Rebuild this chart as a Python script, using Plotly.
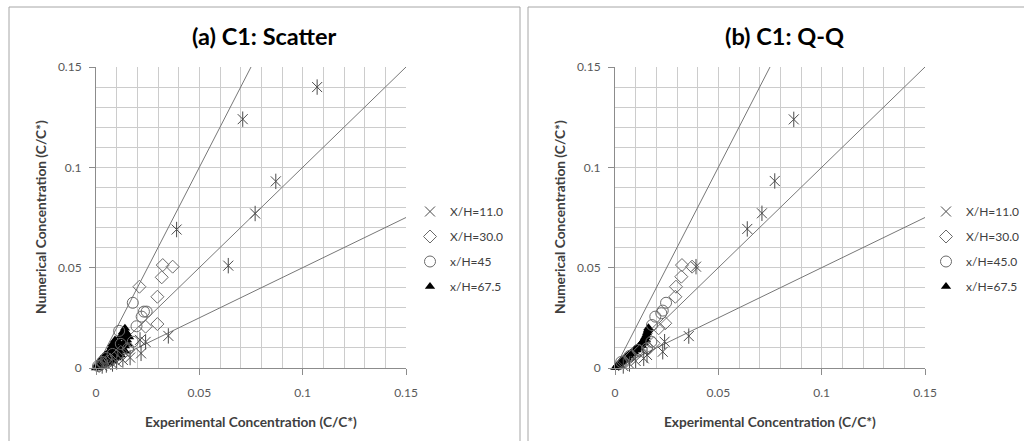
import plotly.graph_objects as go

# ---------------- data ----------------
# Panel (a) scatter: experimental (x) vs numerical (y)
a_x11 = [0.107, 0.071, 0.087, 0.077, 0.039, 0.064, 0.035, 0.024, 0.0218, 0.0213, 0.0165, 0.013, 0.010, 0.008, 0.005, 0.003]
a_y11 = [0.140, 0.124, 0.093, 0.077, 0.069, 0.051, 0.016, 0.013, 0.0073, 0.0140, 0.0052, 0.004, 0.003, 0.002, 0.0015, 0.001]
a_x30 = [0.0323, 0.0371, 0.0318, 0.0210, 0.0297, 0.0297, 0.0240, 0.0156, 0.012, 0.010, 0.007, 0.005, 0.003, 0.0015]
a_y30 = [0.0513, 0.0505, 0.0452, 0.0405, 0.0355, 0.0219, 0.0206, 0.0090, 0.008, 0.006, 0.004, 0.003, 0.002, 0.001]
a_x45 = [0.0178, 0.0232, 0.0245, 0.0221, 0.0196, 0.0112, 0.0178, 0.0156, 0.012, 0.008, 0.005, 0.003, 0.001]
a_y45 = [0.0325, 0.0281, 0.0281, 0.0256, 0.0208, 0.0185, 0.0131, 0.0098, 0.012, 0.007, 0.005, 0.003, 0.001]
a_x67 = [0.0140, 0.0130, 0.0150, 0.0120, 0.0092, 0.0110, 0.0080, 0.0100, 0.0070, 0.0090, 0.0060, 0.0050,
         0.0040, 0.0060, 0.0030, 0.0020, 0.0040, 0.0010, 0.0020, 0.0030, 0.0005, 0.0070, 0.0080, 0.0120,
         0.0130, 0.0150, 0.0140, 0.0110, 0.0050, 0.0015, 0.0025, 0.0035, 0.0065, 0.0085, 0.0100, 0.0045,
         0.0060, 0.0080, 0.0100, 0.0120, 0.0140, 0.0155, 0.0160, 0.0025, 0.0045, 0.0075, 0.0095, 0.0105,
         0.0000, 0.0010, 0.0005, 0.0035, 0.0055, 0.0125, 0.0135, 0.0145]
a_y67 = [0.0198, 0.0180, 0.0170, 0.0160, 0.0140, 0.0130, 0.0120, 0.0100, 0.0090, 0.0070, 0.0070, 0.0060,
         0.0050, 0.0040, 0.0040, 0.0030, 0.0020, 0.0010, 0.0015, 0.0020, 0.0005, 0.0050, 0.0060, 0.0090,
         0.0120, 0.0140, 0.0110, 0.0070, 0.0030, 0.0025, 0.0010, 0.0025, 0.0085, 0.0080, 0.0075, 0.0045,
         0.0025, 0.0035, 0.0050, 0.0065, 0.0085, 0.0120, 0.0155, 0.0045, 0.0065, 0.0105, 0.0115, 0.0060,
         0.0000, 0.0003, 0.0015, 0.0055, 0.0035, 0.0105, 0.0150, 0.0180]

# Panel (b) Q-Q: sorted experimental (x) vs sorted numerical (y)
b_x11 = [0.0865, 0.0773, 0.0711, 0.0640, 0.0392, 0.0357, 0.0240, 0.0231, 0.0155, 0.0139, 0.0100, 0.0070, 0.0040]
b_y11 = [0.1239, 0.0932, 0.0771, 0.0693, 0.0505, 0.0159, 0.0131, 0.0081, 0.0065, 0.0048, 0.0035, 0.0020, 0.0010]
b_x30 = [0.0373, 0.0324, 0.0321, 0.0295, 0.0292, 0.0243, 0.0211, 0.0187, 0.0163, 0.0120, 0.0080, 0.0040]
b_y30 = [0.0505, 0.0513, 0.0455, 0.0405, 0.0355, 0.0223, 0.0198, 0.0123, 0.0098, 0.0085, 0.0060, 0.0030]
b_x45 = [0.0247, 0.0231, 0.0224, 0.0195, 0.0179, 0.0176, 0.0155, 0.0110, 0.0070, 0.0030]
b_y45 = [0.0325, 0.0286, 0.0273, 0.0256, 0.0214, 0.0131, 0.0098, 0.0090, 0.0060, 0.0030]
b_x67 = [0.0162, 0.0160, 0.0158, 0.0155, 0.0152, 0.0148, 0.0144, 0.0140, 0.0135, 0.0130, 0.0125, 0.0120,
         0.0114, 0.0108, 0.0102, 0.0096, 0.0090, 0.0084, 0.0078, 0.0072, 0.0066, 0.0060, 0.0054, 0.0048,
         0.0042, 0.0036, 0.0030, 0.0024, 0.0018, 0.0012, 0.0006, 0.0002,
         0.0150, 0.0140, 0.0130, 0.0118, 0.0105, 0.0092, 0.0080, 0.0068, 0.0056, 0.0044, 0.0032, 0.0020, 0.0008]
b_y67 = [0.0200, 0.0192, 0.0183, 0.0174, 0.0165, 0.0156, 0.0148, 0.0140, 0.0132, 0.0125, 0.0118, 0.0112,
         0.0106, 0.0100, 0.0095, 0.0090, 0.0085, 0.0080, 0.0075, 0.0070, 0.0065, 0.0060, 0.0055, 0.0050,
         0.0045, 0.0040, 0.0034, 0.0028, 0.0021, 0.0014, 0.0007, 0.0002,
         0.0140, 0.0125, 0.0112, 0.0100, 0.0090, 0.0080, 0.0070, 0.0060, 0.0050, 0.0040, 0.0030, 0.0018, 0.0004]

series_names_a = ["X/H=11.0", "X/H=30.0", "x/H=45", "x/H=67.5"]
series_names_b = ["X/H=11.0", "X/H=30.0", "x/H=45.0", "x/H=67.5"]
ref_slopes = [2.0, 1.0, 0.5]
axis_max = 0.15
titles = ["(a) C1: Scatter", "(b) C1: Q-Q"]
x_title = "Experimental Concentration (C/C*)"
y_title = "Numerical Concentration (C/C*)"

# ---------------- figure ----------------
W, H = 1024, 441
FONT = "Lato, 'Open Sans', sans-serif"
LINE_C = "#777777"
GRID_C = "#cccccc"

fig = go.Figure()

panels = [
    dict(xa="x", ya="y", lg="legend",
         data=[(a_x11, a_y11), (a_x30, a_y30), (a_x45, a_y45), (a_x67, a_y67)],
         names=series_names_a, px0=96, px1=406, frame=(9, 520)),
    dict(xa="x2", ya="y2", lg="legend2",
         data=[(b_x11, b_y11), (b_x30, b_y30), (b_x45, b_y45), (b_x67, b_y67)],
         names=series_names_b, px0=615, px1=925, frame=(528, 1040)),
]

py0, py1 = 67, 368  # top / bottom of plot area in pixels

for pi, p in enumerate(panels):
    # reference lines y = k x, clipped to the axis box
    for k in ref_slopes:
        xe = min(axis_max, axis_max / k)
        fig.add_trace(go.Scatter(x=[0, xe], y=[0, k * xe], mode="lines",
                                 line=dict(color=LINE_C, width=1),
                                 xaxis=p["xa"], yaxis=p["ya"], showlegend=False,
                                 hoverinfo="skip"))
    (x11, y11), (x30, y30), (x45, y45), (x67, y67) = p["data"]
    n = p["names"]
    fig.add_trace(go.Scatter(x=x67, y=y67, mode="markers", name=n[3], cliponaxis=False,
                             marker=dict(symbol="triangle-up", size=9, color="black",
                                         line=dict(width=0)),
                             xaxis=p["xa"], yaxis=p["ya"], legend=p["lg"],
                             legendgroup=f"g4{pi}", legendrank=4))
    fig.add_trace(go.Scatter(x=x30, y=y30, mode="markers", name=n[1], cliponaxis=False,
                             marker=dict(symbol="diamond-open", size=10, color="#6a6a6a",
                                         line=dict(width=1)),
                             xaxis=p["xa"], yaxis=p["ya"], legend=p["lg"],
                             legendgroup=f"g2{pi}", legendrank=2))
    fig.add_trace(go.Scatter(x=x45, y=y45, mode="markers", name=n[2], cliponaxis=False,
                             marker=dict(symbol="circle-open", size=11, color="#6a6a6a",
                                         line=dict(width=1)),
                             xaxis=p["xa"], yaxis=p["ya"], legend=p["lg"],
                             legendgroup=f"g3{pi}", legendrank=3))
    fig.add_trace(go.Scatter(x=x11, y=y11, mode="markers", name=n[0], cliponaxis=False,
                             marker=dict(symbol="x-thin-open", size=10, color="#4a4a4a",
                                         line=dict(width=1, color="#4a4a4a")),
                             xaxis=p["xa"], yaxis=p["ya"], legend=p["lg"],
                             legendgroup=f"g1{pi}", legendrank=1))
    fig.add_trace(go.Scatter(x=x11, y=y11, mode="markers", showlegend=False, cliponaxis=False,
                             marker=dict(symbol="line-ns-open", size=11, color="#4a4a4a",
                                         line=dict(width=1, color="#4a4a4a")),
                             xaxis=p["xa"], yaxis=p["ya"], legendgroup=f"g1{pi}",
                             hoverinfo="skip"))

axis_common = dict(range=[0, axis_max], dtick=0.05, tick0=0,
                   showgrid=True, gridcolor=GRID_C, gridwidth=1,
                   minor=dict(dtick=0.01, showgrid=True, gridcolor=GRID_C, gridwidth=1),
                   showline=True, linecolor="#8c8c8c", linewidth=1,
                   ticks="outside", ticklen=6, tickcolor="#8c8c8c",
                   zeroline=False, fixedrange=True,
                   tickfont=dict(family=FONT, size=12, color="#595959"))

for i, p in enumerate(panels):
    suf = "" if i == 0 else str(i + 1)
    xdom = [p["px0"] / W, p["px1"] / W]
    ydom = [1 - py1 / H, 1 - py0 / H]
    fig.layout["xaxis" + suf] = dict(axis_common, domain=xdom, anchor="y" + suf,
                                     ticklabelstandoff=8)
    fig.layout["yaxis" + suf] = dict(axis_common, domain=ydom, anchor="x" + suf,
                                     ticklabelstandoff=5)

annotations = []
shapes = []
for i, p in enumerate(panels):
    f0, f1 = p["frame"]
    cx = (f0 + f1) / 2
    shapes.append(dict(type="rect", xref="paper", yref="paper",
                       x0=f0 / W, x1=f1 / W, y0=1 - 445 / H, y1=1 - 7 / H,
                       line=dict(color="#a6a6a6", width=1), fillcolor="rgba(0,0,0,0)",
                       layer="below"))
    annotations.append(dict(text=f"<b>{titles[i]}</b>", x=cx / W, y=1 - 36 / H,
                            xref="paper", yref="paper", showarrow=False,
                            xanchor="center", yanchor="middle",
                            font=dict(family=FONT, size=23.5, color="#000000")))
    pcx = (p["px0"] + p["px1"]) / 2
    annotations.append(dict(text=f"<b>{x_title}</b>", x=pcx / W, y=1 - 421 / H,
                            xref="paper", yref="paper", showarrow=False,
                            xanchor="center", yanchor="middle",
                            font=dict(family=FONT, size=13.7, color="#404040")))
    annotations.append(dict(text=f"<b>{y_title}</b>", x=(p["px0"] - 56) / W, y=1 - 217 / H,
                            xref="paper", yref="paper", showarrow=False, textangle=-90,
                            xanchor="center", yanchor="middle",
                            font=dict(family=FONT, size=13.7, color="#404040")))

legend_common = dict(xanchor="left", yanchor="top", bgcolor="rgba(0,0,0,0)",
                     font=dict(family=FONT, size=12, color="#404040"),
                     traceorder="grouped", tracegroupgap=6, itemwidth=30,
                     borderwidth=0)

fig.update_layout(
    width=W, height=H,
    margin=dict(l=0, r=0, t=0, b=0, autoexpand=False),
    paper_bgcolor="white", plot_bgcolor="white",
    showlegend=True,
    legend=dict(legend_common, x=410 / W, y=1 - 197 / H),
    legend2=dict(legend_common, x=926 / W, y=1 - 197 / H),
    annotations=annotations,
    shapes=shapes,
)

fig.write_html("out.html", config={"displayModeBar": False},
               post_script="document.body.style.margin='0';")
